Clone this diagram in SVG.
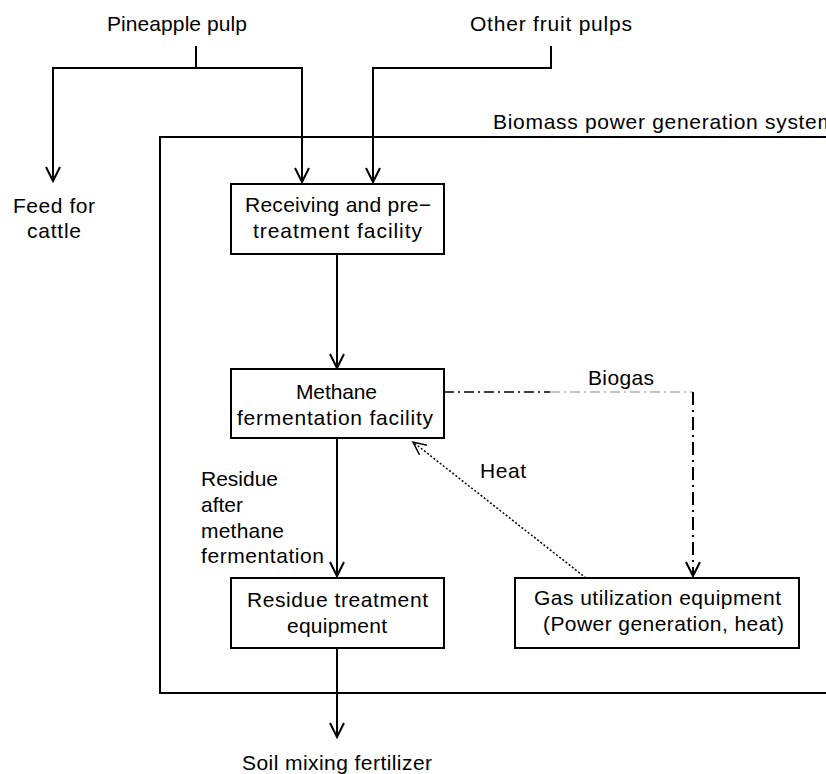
<svg xmlns="http://www.w3.org/2000/svg" width="826" height="774" viewBox="0 0 826 774">
<style>
  text { font-family: "Liberation Sans", "Noto Sans CJK JP", sans-serif; font-size: 21px; fill: #000; }
  .box { fill: #fff; stroke: #000; stroke-width: 2; }
  .ln { fill: none; stroke: #000; stroke-width: 2; }
</style>
<defs>
  <marker id="ah" markerUnits="userSpaceOnUse" markerWidth="20" markerHeight="20" refX="15" refY="8" orient="auto">
    <path d="M1,1 L15,8 L1,15" fill="none" stroke="#000" stroke-width="2"/>
  </marker>
  <marker id="ah2" markerUnits="userSpaceOnUse" markerWidth="20" markerHeight="20" refX="15" refY="8" orient="auto">
    <path d="M2,2 L15,8 L2,14" fill="none" stroke="#000" stroke-width="1.5"/>
  </marker>
</defs>

<g id="system-boundary">
  <path class="ln" d="M826,137 H160 V693 H826" stroke="#222"/>
  <text x="493" y="129" textLength="342">Biomass power generation system</text>
</g>

<g id="connectors">
  <path class="ln" d="M196,46 V68"/>
  <path class="ln" d="M196,68 H53 V181" marker-end="url(#ah)"/>
  <path class="ln" d="M196,68 H302 V182" marker-end="url(#ah)"/>
  <path class="ln" d="M551,46 V68 H373 V182" marker-end="url(#ah)"/>
  <path class="ln" d="M337,254 V368" marker-end="url(#ah)"/>
  <path class="ln" d="M337,438 V576" marker-end="url(#ah)"/>
  <path class="ln" d="M337,648 V737" marker-end="url(#ah)"/>
  <path d="M444,392 H550" fill="none" stroke="#000" stroke-width="1.5" stroke-dasharray="10,4,2,4"/>
  <path d="M550,392 H693" fill="none" stroke="#888" stroke-width="1.2" stroke-dasharray="10,4,2,4"/>
  <path d="M693,392 V576" fill="none" stroke="#000" stroke-width="2" stroke-dasharray="13,5,2,5" marker-end="url(#ah)"/>
  <path d="M586,578 L413,442" fill="none" stroke="#000" stroke-width="1.5" stroke-dasharray="2,2" marker-end="url(#ah2)"/>
  <text x="588" y="385" textLength="66">Biogas</text>
  <text x="480" y="478" textLength="46">Heat</text>
  <text x="201" y="486" textLength="77">Residue</text>
  <text x="201" y="512">after</text>
  <text x="201" y="538" textLength="83">methane</text>
  <text x="201" y="563" textLength="123">fermentation</text>
</g>

<g id="pineapple-pulp">
  <text x="107" y="31" textLength="140">Pineapple pulp</text>
</g>
<g id="other-fruit-pulps">
  <text x="470" y="31" textLength="162">Other fruit pulps</text>
</g>
<g id="feed-for-cattle">
  <text x="13" y="213" textLength="82">Feed for</text>
  <text x="27" y="238" textLength="54">cattle</text>
</g>

<g id="receiving">
  <rect class="box" x="231" y="184" width="213" height="70"/>
  <text x="245" y="212" textLength="186">Receiving and pre−</text>
  <text x="253" y="238" textLength="169">treatment facility</text>
</g>

<g id="methane">
  <rect class="box" x="231" y="369" width="213" height="69"/>
  <text x="296" y="399" textLength="81">Methane</text>
  <text x="237" y="425" textLength="196">fermentation facility</text>
</g>

<g id="residue-treatment">
  <rect class="box" x="231" y="578" width="213" height="70"/>
  <text x="247" y="607" textLength="181">Residue treatment</text>
  <text x="287" y="633" textLength="100">equipment</text>
</g>

<g id="gas-utilization">
  <rect class="box" x="515" y="578" width="284" height="70"/>
  <text x="534" y="605" textLength="247">Gas utilization equipment</text>
  <text x="543" y="631" textLength="241">(Power generation, heat)</text>
</g>

<g id="soil-mixing-fertilizer">
  <text x="242" y="770" textLength="190">Soil mixing fertilizer</text>
</g>
</svg>
